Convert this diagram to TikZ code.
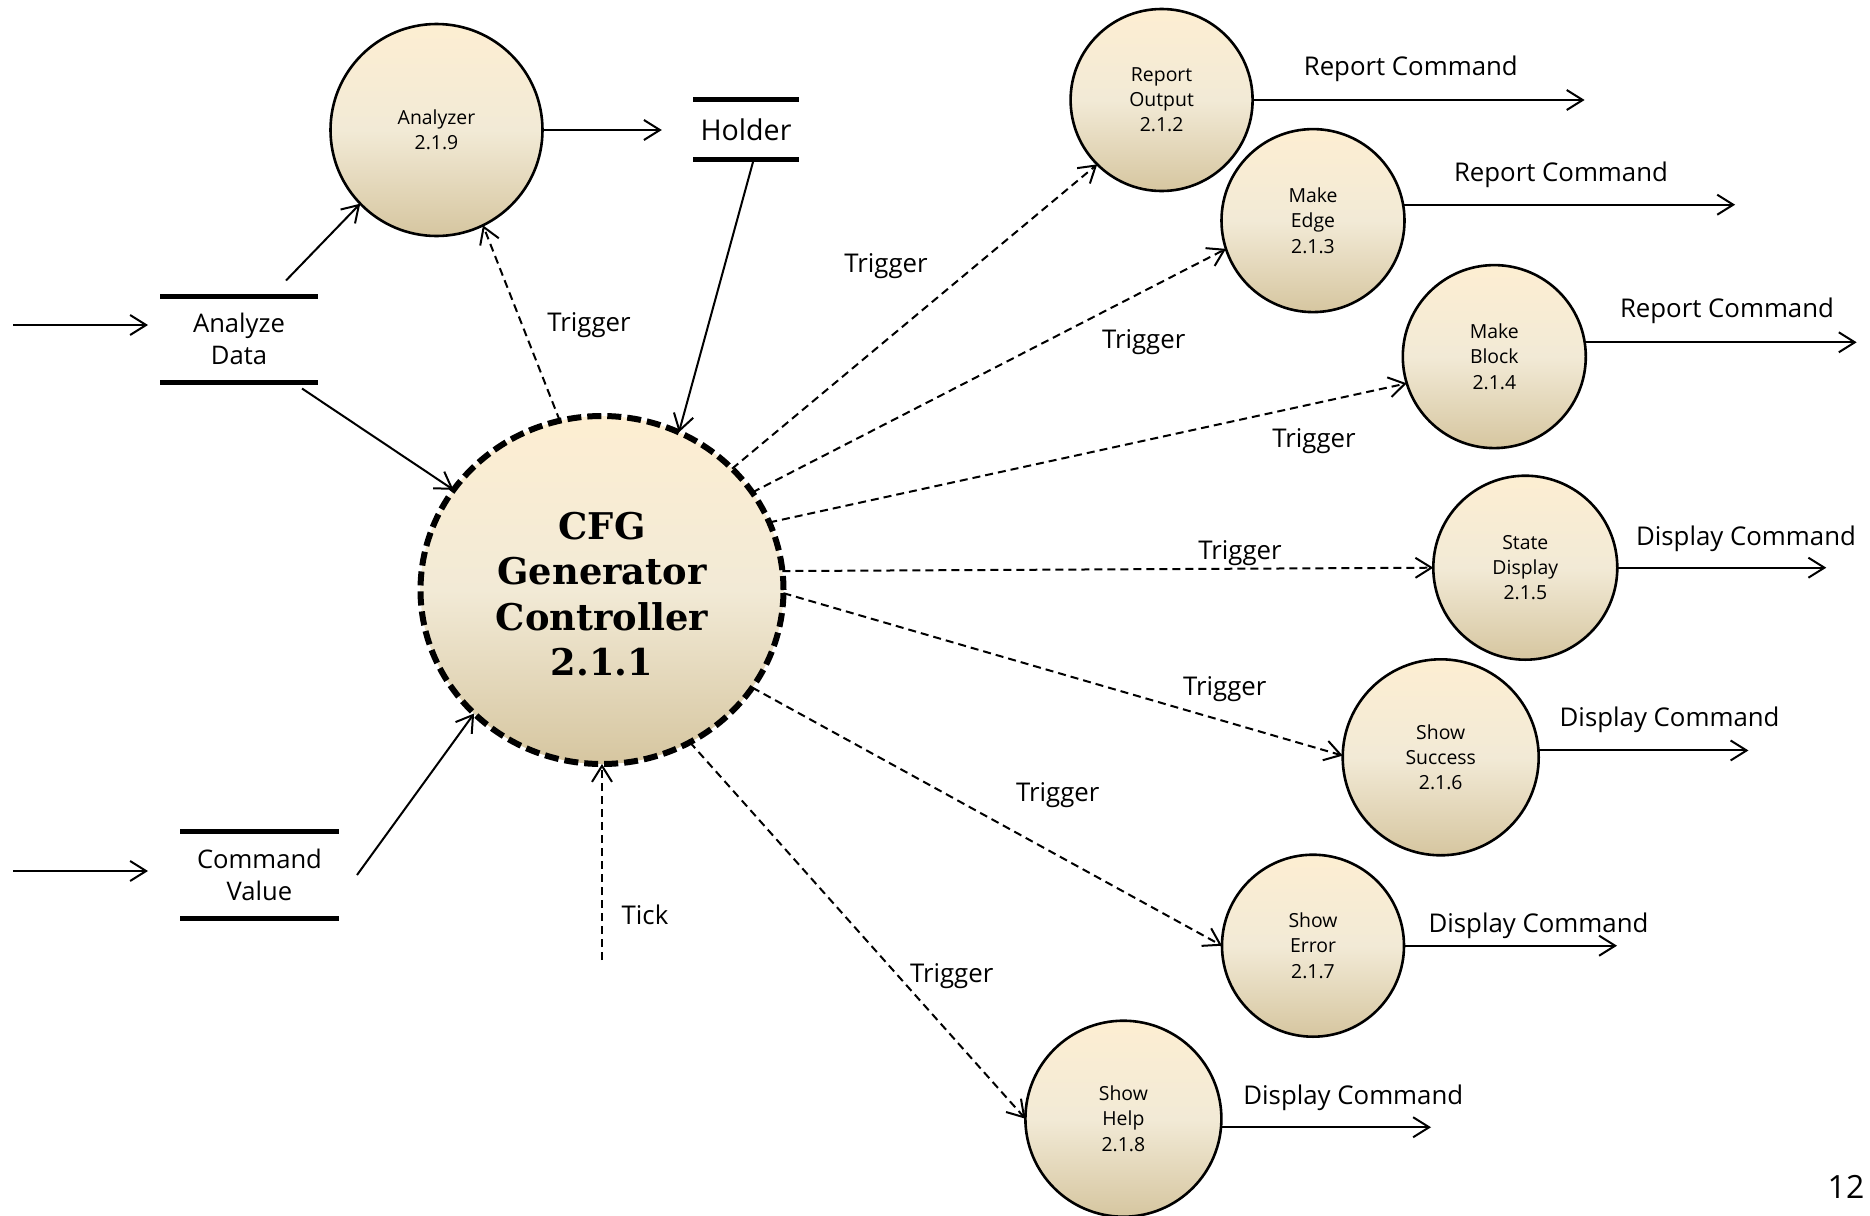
\documentclass[tikz,border=0pt]{standalone}
\usepackage{fontspec}
\setmainfont{Open Sans}
\newfontfamily\ctrlfont{DejaVu Serif}
\usetikzlibrary{arrows.meta,shapes.geometric,calc}
\definecolor{cTop}{RGB}{253,238,210}
\definecolor{cMid}{RGB}{242,234,214}
\definecolor{cBot}{RGB}{214,198,160}
\begin{document}
\begin{tikzpicture}[x=0.5pt,y=-0.5pt,
  >={Straight Barb[length=8pt,width=10pt]},
  bubble/.style={circle,draw,line width=1.3pt,inner sep=0pt,outer sep=0pt,
     top color=cTop,bottom color=cBot,middle color=cMid,
     align=center,font=\fontsize{9.7}{12.6}\selectfont},
  store/.style={inner sep=0pt,outer sep=0pt,align=center,font=\fontsize{12.8}{16}\selectfont},
  storeline/.style={line width=2.5pt},
  flow/.style={->,line width=1pt},
  trig/.style={flow,dash pattern=on 4pt off 2.5pt},
  lbl/.style={inner sep=0pt,font=\fontsize{12.9}{15}\selectfont}
]
\useasboundingbox (0,0) rectangle (1870,1216);

% main process
\node[ellipse,draw,line width=3pt,dash pattern=on 7pt off 3pt,inner sep=0pt,outer sep=0pt,
  minimum width=181.5pt,minimum height=174pt,
  top color=cTop,bottom color=cBot,middle color=cMid] (main) at (602,590) {};
\node[inner sep=0pt,align=center,font=\ctrlfont\bfseries\fontsize{18.4}{22.7}\selectfont]
  (maintext) at (602,594) {CFG\\Generator\\Controller\\2.1.1};

% bubbles
\node[bubble,minimum size=106pt] (an) at (436.5,130) {Analyzer\\2.1.9};
\node[bubble,minimum size=91pt] (ro) at (1161.6,100) {Report\\Output\\2.1.2};
\node[bubble,minimum size=91.5pt] (me) at (1313,220.6) {Make\\Edge\\2.1.3};
\node[bubble,minimum size=91.5pt] (mb) at (1494.3,356.6) {Make\\Block\\2.1.4};
\node[bubble,minimum size=92pt] (sd) at (1525.3,567.7) {State\\Display\\2.1.5};
\node[bubble,minimum size=98pt] (ss) at (1440.7,757.3) {Show\\Success\\2.1.6};
\node[bubble,minimum size=91pt] (se) at (1313,945.7) {Show\\Error\\2.1.7};
\node[bubble,minimum size=98pt] (sh) at (1123.4,1118.7) {Show\\Help\\2.1.8};

% stores
\node[store,minimum width=53pt,minimum height=30pt,font=\fontsize{14.3}{16}\selectfont] (hold) at (746,130) {Holder};
\draw[storeline] ([yshift=0.5pt]hold.north west) -- ([yshift=0.5pt]hold.north east);
\draw[storeline] ([yshift=0.5pt]hold.south west) -- ([yshift=0.5pt]hold.south east);
\node[store,minimum width=79pt,minimum height=41.5pt] (ad) at (239,339) {Analyze\\Data};
\draw[storeline] ([yshift=0.75pt]ad.north west) -- ([yshift=0.75pt]ad.north east);
\draw[storeline] ([yshift=-0.75pt]ad.south west) -- ([yshift=-0.75pt]ad.south east);
\node[store,minimum width=79.5pt,minimum height=41.7pt] (cv) at (259.5,875) {Command\\Value};
\draw[storeline] ([yshift=0.75pt]cv.north west) -- ([yshift=0.75pt]cv.north east);
\draw[storeline] ([yshift=-0.75pt]cv.south west) -- ([yshift=-0.75pt]cv.south east);

% inputs
\coordinate (inA) at (13,325);
\coordinate (inC) at (13,871);
\coordinate (tk) at (602,960);
\draw[flow,shorten >=6pt] (inA) -- (inA -| ad.west);
\draw[flow,shorten >=16pt] (inC) -- (inC -| cv.west);

% solid flows
\draw[flow] ($(ad.north)+(47,-17)$) -- (an.224);
\draw[flow] ($(ad.south)+(63,8)$) -- (main.146.7);
\draw[flow] ($(cv.east)+(18,0)$) -- (main.224);
\draw[flow,shorten >=15.6pt] (an.east) -- (an.east -| hold.west);
\draw[flow] ($(hold.south)+(7,2)$) -- (main.64.5);

% triggers
\draw[trig] (main.104.8) -- (an.296);
\draw[trig] (tk) -- (main.south);
\draw[trig] (main.43.6) -- (ro.225);
\draw[trig] (main.33.7) -- (me.198);
\draw[trig] (main.22.3) -- (mb.197);
\draw[trig] (main.6.6) -- (sd.180);
\draw[trig] (main.359) -- (ss.179);
\draw[trig] (main.327) -- (se.180);
\draw[trig] (main.300) -- (sh.180);

% outputs
\draw[flow] (ro.east) -- ++(332,0);
\draw[flow] (me.10) -- ++(332,0);
\draw[flow] (mb.9) -- ++(272,0);
\draw[flow] (sd.east) -- ++(209,0);
\draw[flow] (ss.4) -- ++(210,0);
\draw[flow] (se.east) -- ++(213,0);
\draw[flow] (sh.355) -- ++(210,0);

% labels
\node[lbl] (l0) at (589,325.5) {Trigger};
\node[lbl] (l1) at (886,266) {Trigger};
\node[lbl] (l2) at (1143.7,342) {Trigger};
\node[lbl] (l3) at (1314,441) {Trigger};
\node[lbl] (l4) at (1240,553) {Trigger};
\node[lbl] (l5) at (1224.8,689) {Trigger};
\node[lbl] (l6) at (1057.8,795) {Trigger};
\node[lbl] (l7) at (951.7,976.5) {Trigger};
\node[lbl] (ltk) at (645,915) {Tick};
\node[lbl] (o1) at (1410.8,68.5) {Report Command};
\node[lbl] (o2) at (1561,174.5) {Report Command};
\node[lbl] (o3) at (1727,310.5) {Report Command};
\node[lbl] (o4) at (1746,538.5) {Display Command};
\node[lbl] (o5) at (1669.6,719.5) {Display Command};
\node[lbl] (o6) at (1538.5,926) {Display Command};
\node[lbl] (o7) at (1353.3,1098) {Display Command};
\node[inner sep=0pt,font=\fontsize{16}{18}\selectfont] (pg) at (1846,1186.6) {12};
\end{tikzpicture}
\end{document}
